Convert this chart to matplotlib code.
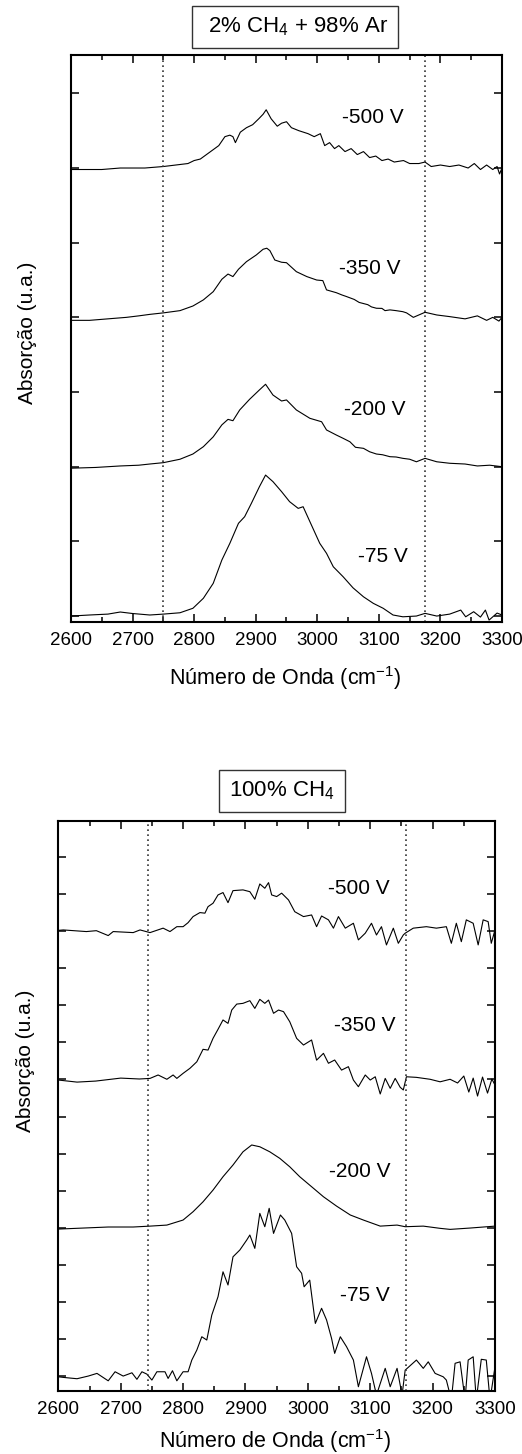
import numpy as np
import matplotlib.pyplot as plt
from matplotlib.ticker import MultipleLocator

plt.rcParams['font.family'] = ['Liberation Sans', 'DejaVu Sans']
plt.rcParams['mathtext.default'] = 'regular'

voltages = ['-500 V', '-350 V', '-200 V', '-75 V']
offsets = [3, 2, 1, 0]

# painel de cima: 2% CH4 + 98% Ar
ar_500_x = [2600, 2620, 2650, 2680, 2700, 2720, 2750, 2770, 2790, 2800, 2810, 2820, 2830, 2840, 2850,
            2858, 2863, 2867, 2875, 2885, 2895, 2905, 2912, 2917, 2925, 2935, 2942, 2950, 2958, 2970,
            2985, 2995, 3005, 3012, 3020, 3028, 3035, 3045, 3055, 3065, 3075, 3085, 3095, 3105, 3115,
            3125, 3140, 3150, 3165, 3175, 3185, 3200, 3215, 3230, 3245, 3255, 3265, 3275, 3285, 3292,
            3296, 3300]
ar_500_y = [-0.01, -0.01, -0.01, 0.0, 0.0, 0.0, 0.01, 0.02, 0.03, 0.05, 0.06, 0.09, 0.12, 0.15, 0.21,
            0.22, 0.21, 0.17, 0.24, 0.27, 0.29, 0.33, 0.36, 0.39, 0.33, 0.28, 0.30, 0.31, 0.27, 0.25,
            0.23, 0.21, 0.23, 0.15, 0.17, 0.13, 0.15, 0.11, 0.13, 0.09, 0.11, 0.07, 0.08, 0.05, 0.06,
            0.04, 0.05, 0.03, 0.03, 0.04, 0.01, 0.02, 0.01, 0.02, 0.0, 0.03, -0.01, 0.02, -0.01, 0.01,
            -0.04, 0.0]

ar_350_x = [2600, 2630, 2660, 2690, 2710, 2728, 2750, 2777, 2798, 2815, 2831, 2845, 2855, 2863, 2872,
            2885, 2901, 2912, 2918, 2923, 2931, 2942, 2950, 2966, 2983, 2999, 3009, 3015, 3031, 3040,
            3047, 3060, 3068, 3082, 3088, 3096, 3105, 3110, 3118, 3128, 3139, 3145, 3156, 3175, 3194,
            3215, 3240, 3260, 3275, 3285, 3295, 3300]
ar_350_y = [-0.02, -0.02, -0.01, 0.0, 0.01, 0.02, 0.03, 0.045, 0.076, 0.117, 0.172, 0.255, 0.29, 0.273, 0.322,
            0.373, 0.418, 0.456, 0.463, 0.447, 0.384, 0.369, 0.366, 0.306, 0.273, 0.25, 0.246, 0.184, 0.165, 0.15,
            0.14, 0.12, 0.10, 0.085, 0.07, 0.061, 0.06, 0.045, 0.05, 0.045, 0.038, 0.03, 0.0, 0.034, 0.016,
            0.005, -0.01, 0.01, -0.02, 0.0, -0.025, 0.0]

ar_200_x = [2600, 2640, 2680, 2710, 2728, 2750, 2777, 2798, 2815, 2831, 2845, 2855, 2863, 2874, 2890,
            2906, 2916, 2928, 2942, 2950, 2966, 2988, 3007, 3015, 3031, 3042, 3053, 3062, 3075, 3085,
            3096, 3106, 3118, 3128, 3139, 3150, 3161, 3175, 3194, 3215, 3240, 3260, 3280, 3300]
ar_200_y = [-0.01, -0.005, 0.005, 0.01, 0.018, 0.027, 0.05, 0.085, 0.134, 0.2, 0.28, 0.317, 0.308, 0.38, 0.451,
            0.514, 0.552, 0.48, 0.44, 0.447, 0.38, 0.324, 0.301, 0.246, 0.212, 0.19, 0.167, 0.13, 0.123, 0.1,
            0.085, 0.08, 0.067, 0.065, 0.056, 0.05, 0.033, 0.056, 0.033, 0.023, 0.018, 0.005, 0.01, 0.0]

ar_75_x = [2600, 2630, 2660, 2680, 2700, 2728, 2750, 2777, 2798, 2815, 2831, 2839, 2845, 2858, 2872,
           2882, 2893, 2906, 2916, 2928, 2942, 2955, 2969, 2977, 2988, 3004, 3015, 3026, 3042, 3058,
           3075, 3091, 3107, 3123, 3139, 3161, 3175, 3194, 3215, 3233, 3241, 3254, 3265, 3273, 3279,
           3292, 3300]
ar_75_y = [0.0, 0.007, 0.013, 0.027, 0.017, 0.007, 0.013, 0.022, 0.052, 0.119, 0.219, 0.308, 0.375, 0.487, 0.621,
           0.665, 0.755, 0.866, 0.944, 0.9, 0.833, 0.766, 0.721, 0.732, 0.632, 0.487, 0.42, 0.33, 0.263, 0.189,
           0.129, 0.085, 0.052, 0.007, -0.005, 0.0, 0.018, 0.0, 0.013, 0.04, -0.005, 0.029, -0.007, 0.04, -0.027,
           0.02, 0.007]

# painel de baixo: 100% CH4
ch4_500_x = [2600, 2608, 2645, 2661, 2680, 2688, 2720, 2731, 2747, 2768, 2779, 2790, 2800, 2808, 2816, 2827,
             2835, 2840, 2848, 2856, 2864, 2872, 2880, 2896, 2907, 2915, 2923, 2931, 2937, 2942, 2950,
             2958, 2969, 2979, 2993, 3006, 3014, 3022, 3033, 3041, 3049, 3060, 3073, 3081, 3092, 3102,
             3110, 3118, 3126, 3137, 3145, 3153, 3156, 3169, 3190, 3206, 3222, 3230, 3238, 3246, 3254,
             3265, 3273, 3281, 3289, 3294, 3300]
ch4_500_y = [0.005, 0.008, -0.003, 0.003, -0.03, -0.003, -0.01, 0.008, -0.01, 0.02, -0.003, 0.03, 0.03, 0.057, 0.098, 0.125,
             0.121, 0.165, 0.188, 0.244, 0.26, 0.192, 0.273, 0.278, 0.266, 0.215, 0.318, 0.289, 0.327, 0.244, 0.233,
             0.256, 0.21, 0.131, 0.098, 0.109, 0.03, 0.102, 0.076, 0.02, 0.098, 0.02, 0.053, -0.059, -0.014, 0.053,
             -0.026, 0.03, -0.093, 0.02, -0.082, -0.026, -0.014, 0.02, 0.03, 0.02, 0.03, -0.082, 0.053, -0.071, 0.076,
             0.053, -0.093, 0.076, 0.064, -0.082, 0.008]

ch4_350_x = [2600, 2630, 2660, 2700, 2730, 2747, 2760, 2774, 2784, 2790, 2800, 2811, 2822, 2832, 2840,
             2848, 2856, 2864, 2872, 2878, 2886, 2896, 2907, 2915, 2923, 2931, 2937, 2945, 2953, 2961,
             2971, 2982, 2993, 3006, 3014, 3025, 3033, 3043, 3054, 3065, 3073, 3081, 3092, 3100, 3108,
             3116, 3124, 3132, 3140, 3148, 3153, 3158, 3174, 3196, 3212, 3228, 3240, 3250, 3258, 3265,
             3272, 3280, 3288, 3295, 3300]
ch4_350_y = [-0.004, -0.018, -0.011, 0.009, 0.003, 0.007, 0.03, 0.001, 0.03, 0.007, 0.041, 0.075, 0.119, 0.203, 0.198,
             0.277, 0.338, 0.401, 0.378, 0.468, 0.508, 0.513, 0.531, 0.479, 0.54, 0.513, 0.535, 0.446, 0.468, 0.457,
             0.389, 0.277, 0.232, 0.266, 0.13, 0.176, 0.109, 0.131, 0.063, 0.086, -0.004, -0.049, 0.03, -0.004, 0.018,
             -0.098, 0.007, -0.06, 0.007, -0.053, -0.071, 0.018, 0.014, 0.001, -0.016, 0.001, -0.024, 0.023, -0.085, 0.009,
             -0.112, 0.016, -0.092, 0.003, -0.038]

ch4_200_x = [2600, 2640, 2680, 2720, 2747, 2774, 2800, 2816, 2832, 2848, 2864, 2880, 2896, 2910, 2923,
             2939, 2955, 2971, 2987, 3009, 3025, 3046, 3068, 3089, 3116, 3143, 3156, 3185, 3212, 3228,
             3260, 3300]
ch4_200_y = [-0.009, -0.002, 0.005, 0.005, 0.011, 0.018, 0.052, 0.108, 0.175, 0.254, 0.344, 0.423, 0.512, 0.558, 0.546,
             0.512, 0.468, 0.411, 0.344, 0.266, 0.209, 0.146, 0.086, 0.052, 0.011, 0.018, 0.007, 0.011, -0.004, -0.011,
             -0.002, 0.011]

ch4_75_x = [2600, 2608, 2630, 2648, 2662, 2680, 2691, 2704, 2718, 2726, 2734, 2742, 2750, 2758, 2771,
            2776, 2783, 2790, 2800, 2808, 2814, 2822, 2830, 2838, 2846, 2856, 2864, 2872, 2880, 2891,
            2902, 2907, 2915, 2923, 2931, 2938, 2945, 2956, 2963, 2974, 2982, 2990, 2994, 3003, 3012,
            3022, 3030, 3038, 3043, 3052, 3062, 3073, 3081, 3094, 3102, 3110, 3124, 3132, 3143, 3151,
            3156, 3174, 3185, 3193, 3204, 3217, 3222, 3230, 3236, 3244, 3252, 3257, 3265, 3270, 3278,
            3286, 3292, 3300]
ch4_75_y = [-0.005, -0.009, -0.018, 0.0, 0.018, -0.032, 0.029, 0.0, 0.022, -0.022, 0.029, 0.013, -0.027, 0.029, 0.029,
            -0.016, 0.036, -0.032, 0.029, 0.029, 0.108, 0.175, 0.265, 0.243, 0.411, 0.535, 0.703, 0.614, 0.804, 0.85,
            0.917, 0.951, 0.861, 1.097, 1.007, 1.131, 0.962, 1.086, 1.052, 0.962, 0.737, 0.693, 0.602, 0.647, 0.355,
            0.457, 0.378, 0.254, 0.153, 0.265, 0.198, 0.108, -0.072, 0.13, 0.018, -0.128, 0.052, -0.072, 0.052, -0.128,
            0.04, 0.108, 0.052, 0.096, 0.018, -0.005, -0.027, -0.16, 0.086, 0.096, -0.16, 0.108, 0.13, -0.16, 0.113,
            0.108, -0.16, 0.063]

# linhas pontilhadas e posicoes dos rotulos
ar_lines = [2750, 3175]
ch4_lines = [2743, 3157]
ar_label_x = [3090, 3085, 3093, 3106]
ar_label_y = [3.335, 2.33, 1.38, 0.397]
ch4_label_x = [3082, 3091, 3083, 3091]
ch4_label_y = [3.29, 2.367, 1.376, 0.546]

fig = plt.figure(figsize=(5.22, 14.54), dpi=100)
ax1 = fig.add_axes([0.136, 0.5722, 0.8257, 0.39])
ax2 = fig.add_axes([0.1117, 0.0433, 0.8366, 0.392])


def painel(ax, curvas, linhas, lx, ly, titulo, ylim, ystep, tx, ty, ylab_x, ylab_y, xlab_y):
    for (x, y), off in zip(curvas, offsets):
        ax.plot(x, np.array(y) + off, color='black', lw=0.8)
    for v in linhas:
        ax.axvline(v, color='#333333', ls=(0, (1, 2)), lw=1.2)
    for t, x, y in zip(voltages, lx, ly):
        ax.text(x, y, t, fontsize=15, ha='center', va='center')
    ax.set_xlim(2600, 3300)
    ax.set_ylim(*ylim)
    ax.set_xticks(range(2600, 3301, 100))
    ax.xaxis.set_minor_locator(MultipleLocator(50))
    ax.set_yticks(np.arange(0, 3.51, ystep))
    ax.tick_params(which='both', direction='in', top=True, right=True, labelleft=False,
                   width=1.1, labelsize=13.5, pad=7)
    ax.tick_params(which='major', length=6)
    ax.tick_params(which='minor', length=3.3)
    for s in ax.spines.values():
        s.set_linewidth(1.5)
    ax.set_xlabel('Número de Onda (cm$^{-1}$)', fontsize=15.5, va='center')
    ax.xaxis.set_label_coords(0.497, xlab_y)
    ax.set_ylabel('Absorção (u.a.)', fontsize=15, va='center')
    ax.yaxis.set_label_coords(ylab_x, ylab_y)
    ax.text(tx, ty, titulo, transform=ax.transAxes, fontsize=16, ha='center', va='center',
            bbox=dict(boxstyle='square,pad=0.45', fc='white', ec='#333333', lw=1.0))


painel(ax1, [(ar_500_x, ar_500_y), (ar_350_x, ar_350_y), (ar_200_x, ar_200_y), (ar_75_x, ar_75_y)],
       ar_lines, ar_label_x, ar_label_y, ' 2% CH$_4$ + 98% Ar ', (-0.04, 3.757), 0.5, 0.52, 1.049,
       -0.102, 0.51, -0.099)
painel(ax2, [(ch4_500_x, ch4_500_y), (ch4_350_x, ch4_350_y), (ch4_200_x, ch4_200_y), (ch4_75_x, ch4_75_y)],
       ch4_lines, ch4_label_x, ch4_label_y, '100% CH$_4$', (-0.101, 3.742), 0.25, 0.512, 1.0526,
       -0.075, 0.58, -0.087)

fig.savefig('out.png', dpi=100)
